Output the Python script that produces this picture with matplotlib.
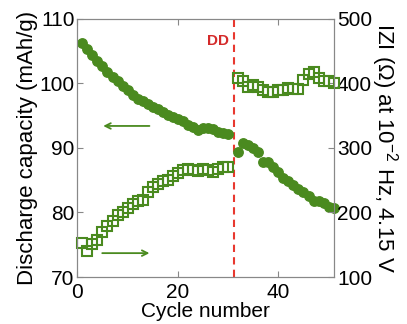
import numpy as np
import matplotlib
matplotlib.use("Agg")
import matplotlib.pyplot as plt

plt.rcParams['font.family'] = ['Liberation Sans', 'DejaVu Sans']
plt.rcParams['mathtext.fontset'] = 'custom'
plt.rcParams['mathtext.rm'] = 'Liberation Sans'

# cycles before / after the DD event
cyc_pre = list(range(1, 31))
cyc_post = list(range(32, 52))

cap_pre = [106.2, 105.3, 104.4, 103.5, 102.7, 101.8, 101.0, 100.3, 99.6, 99.0,
           98.2, 97.6, 97.2, 96.8, 96.4, 96.0, 95.6, 95.1, 94.8, 94.5,
           94.1, 93.6, 93.2, 92.8, 93.1, 93.1, 92.9, 92.5, 92.3, 92.2]
cap_post = [89.4, 90.8, 90.5, 90.0, 89.4, 87.8, 87.8, 87.1, 86.2, 85.4,
            84.8, 84.3, 83.6, 83.1, 82.5, 81.7, 81.8, 81.4, 80.8, 80.7]

z_pre = [153, 141, 151, 158, 170, 179, 187, 196, 201, 207,
         213, 218, 219, 231, 239, 244, 248, 250, 256, 261,
         266, 267, 266, 265, 267, 266, 262, 267, 270, 270]
z_post = [408, 404, 395, 398, 394, 390, 387, 387, 389, 389,
          393, 391, 391, 405, 415, 417, 408, 403, 403, 400]

dd_cycle = 31.2
green = '#4a8a1f'
red = '#e8382f'

fig = plt.figure(figsize=(4.07, 3.24), dpi=100)
ax = fig.add_axes([0.190, 0.145, 0.631, 0.797])
ax2 = ax.twinx()

ax.plot(cyc_pre, cap_pre, 'o', color=green, ms=6.8, mec=green, clip_on=False, zorder=3)
ax.plot(cyc_post, cap_post, 'o', color=green, ms=6.8, mec=green, clip_on=False, zorder=3)
ax2.plot(cyc_pre, z_pre, 's', mfc='none', mec=green, mew=1.5, ms=6.5, clip_on=False)
ax2.plot(cyc_post, z_post, 's', mfc='none', mec=green, mew=1.5, ms=6.5, clip_on=False)

ax.axvline(dd_cycle, color=red, ls=(0, (3.5, 2.5)), lw=1.5)
ax.text(dd_cycle - 1.0, 106.6, 'DD', color='#d42a2a', fontsize=11,
        fontweight='bold', ha='right', va='center')

ax.annotate('', xy=(4.6, 93.4), xytext=(14.9, 93.4),
            arrowprops=dict(arrowstyle='->', color=green, lw=1.3))
ax.annotate('', xy=(14.9, 73.7), xytext=(4.4, 73.7),
            arrowprops=dict(arrowstyle='->', color=green, lw=1.3))

ax.set_xlim(0, 51.1)
ax.set_ylim(70, 110)
ax2.set_ylim(100, 500)
ax.set_xticks([0, 20, 40])
ax.set_yticks([70, 80, 90, 100, 110])
ax2.set_yticks([100, 200, 300, 400, 500])

ax.set_xlabel('Cycle number', fontsize=15, labelpad=0)
ax.set_ylabel('Discharge capacity (mAh/g)', fontsize=16, labelpad=1)
ax2.set_ylabel('IZI (Ω) at 10$^{-2}$ Hz, 4.15 V', fontsize=16,
               rotation=270, labelpad=20)

for a in (ax, ax2):
    a.tick_params(direction='in', labelsize=15, length=4, color='#888888', pad=2)
    for s in a.spines.values():
        s.set_color('#888888')
ax.tick_params(top=True)
ax.tick_params(axis='x', pad=4)

fig.savefig('out.png', dpi=100)
